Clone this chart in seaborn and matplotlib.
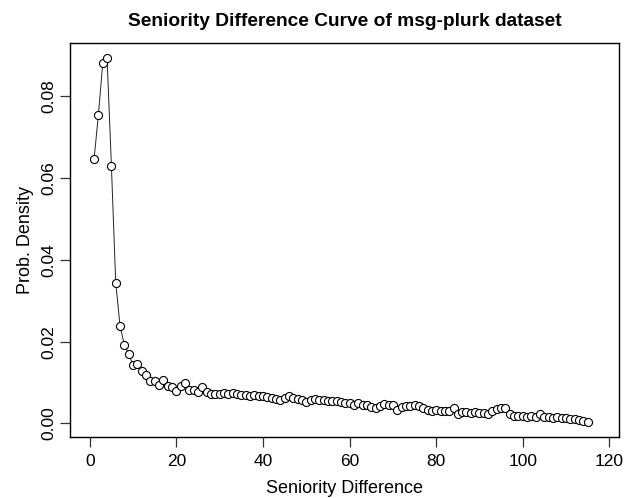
import matplotlib
matplotlib.use("Agg")
import matplotlib.pyplot as plt
import seaborn as sns
import pandas as pd
import numpy as np

seniority = list(range(1, 116))
density = [
    0.0646, 0.0754, 0.0880, 0.0893, 0.0630, 0.0344, 0.0238, 0.0192, 0.0170, 0.0142,
    0.0146, 0.0128, 0.0118, 0.0105, 0.0103, 0.0095, 0.0106, 0.0091, 0.0089, 0.0080,
    0.0091, 0.0099, 0.0081, 0.0083, 0.0077, 0.0089, 0.0076, 0.0073, 0.0072, 0.0071,
    0.0074, 0.0072, 0.0075, 0.0071, 0.0070, 0.0069, 0.0068, 0.0070, 0.0067, 0.0068,
    0.0065, 0.0063, 0.0060, 0.0058, 0.0062, 0.0066, 0.0062, 0.0060, 0.0057, 0.0053,
    0.0057, 0.0060, 0.0058, 0.0057, 0.0056, 0.0055, 0.0054, 0.0052, 0.0050, 0.0049,
    0.0046, 0.0050, 0.0046, 0.0044, 0.0041, 0.0037, 0.0042, 0.0047, 0.0045, 0.0046,
    0.0034, 0.0040, 0.0042, 0.0043, 0.0044, 0.0043, 0.0039, 0.0034, 0.0031, 0.0032,
    0.0031, 0.0030, 0.0031, 0.0038, 0.0022, 0.0028, 0.0027, 0.0026, 0.0027, 0.0026,
    0.0025, 0.0022, 0.0031, 0.0036, 0.0039, 0.0037, 0.0024, 0.0019, 0.0018, 0.0019,
    0.0017, 0.0018, 0.0016, 0.0024, 0.0017, 0.0015, 0.0014, 0.0016, 0.0014, 0.0013,
    0.0012, 0.0011, 0.0009, 0.0007, 0.0004,
]
x_ticks = [0, 20, 40, 60, 80, 100, 120]
y_ticks = [0.00, 0.02, 0.04, 0.06, 0.08]

title = "Seniority Difference Curve of msg-plurk dataset"
x_label = "Seniority Difference"
y_label = "Prob. Density"

sns.set_theme(style="ticks")
plt.rcParams['font.family'] = ['Liberation Sans', 'DejaVu Sans']
plt.rcParams['text.color'] = 'black'
plt.rcParams['axes.labelcolor'] = 'black'
plt.rcParams['xtick.color'] = 'black'
plt.rcParams['ytick.color'] = 'black'

df = pd.DataFrame({"x": seniority, "y": density})

fig = plt.figure(figsize=(6.29, 4.98), dpi=100)
ax = fig.add_axes([0.111, 0.1225, 0.873, 0.7915])

sns.lineplot(data=df, x="x", y="y", ax=ax, color="#222222", linewidth=0.7,
             marker="o", markersize=5.8, markerfacecolor="white",
             markeredgecolor="black", markeredgewidth=0.8)

ax.set_xlim(-4.6, 122.2)
ax.set_ylim(-0.0033, 0.0930)
ax.set_xticks(x_ticks)
ax.set_xticklabels([str(t) for t in x_ticks], fontsize=12.5)
ax.set_yticks(y_ticks)
ax.set_yticklabels([f"{t:.2f}" for t in y_ticks], fontsize=12.5, rotation=90, va="center")
ax.tick_params(axis="both", direction="out", length=7, width=0.9, color="#333333")
ax.tick_params(axis="y", pad=3)
ax.tick_params(axis="x", pad=5)

for s in ax.spines.values():
    s.set_visible(True)
    s.set_color("black")
    s.set_linewidth(1.0)

ax.set_xlabel(x_label, fontsize=13, labelpad=8)
ax.set_ylabel(y_label, fontsize=13, labelpad=5)
ax.set_title(title, fontsize=13.8, fontweight="bold", pad=12)

fig.savefig("out.png", dpi=100, facecolor="white")
